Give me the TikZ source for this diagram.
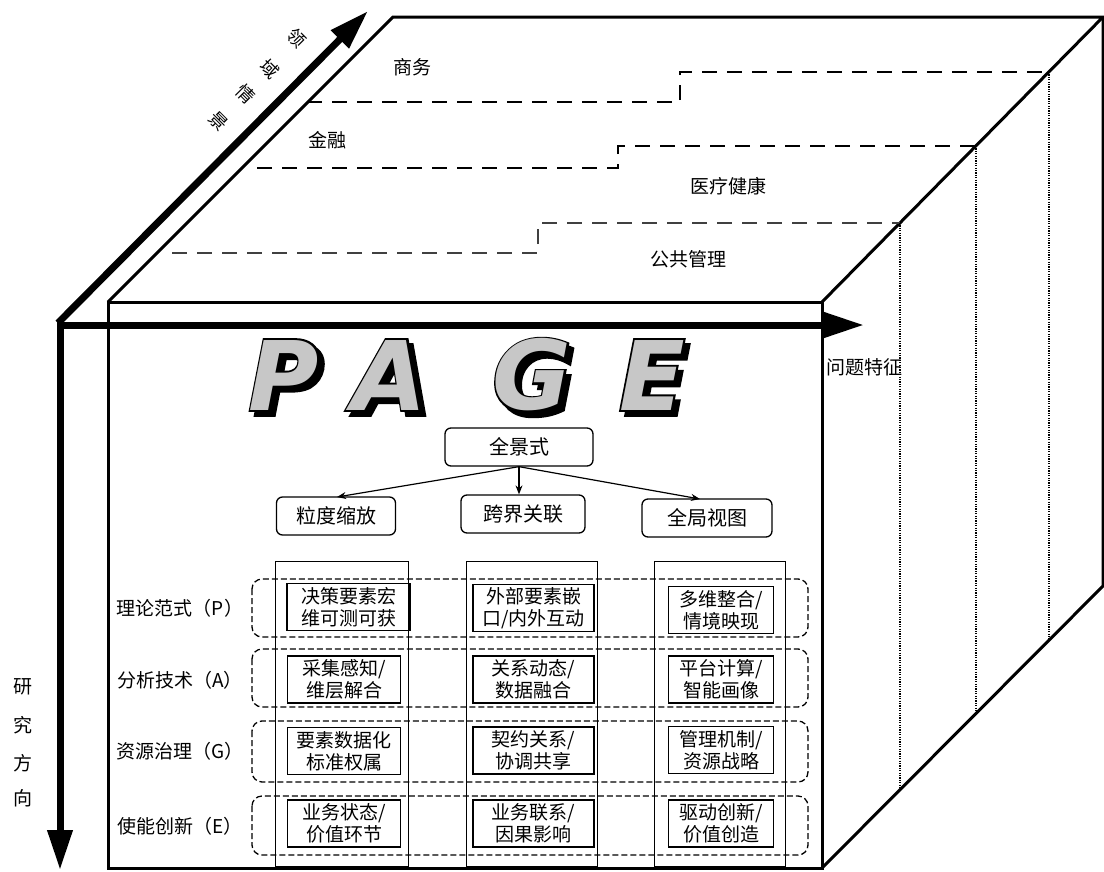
\documentclass[tikz,border=0pt]{standalone}
\usepackage{fontspec}
\newfontfamily\cjk{Noto Sans CJK SC}
\newfontfamily\pagefont{DejaVu Sans}
\newfontfamily\pageoutfont{DejaVu Sans}[BoldItalicFeatures={FakeBold=4}]
\usetikzlibrary{arrows.meta}
\newcommand\pgletter[3]{%
  \node[pageo, text=black, xshift=5pt, yshift=-5pt] (#1s) at (#2) {#3};
  \node[pageo, text=black] (#1o) at (#2) {#3};
  \node[pagel, text=black!22] (#1) at (#2) {#3};
}
\begin{document}
\begin{tikzpicture}[x=1pt,y=-1pt,
  edge/.style={line width=3pt, line join=miter},
  dashline/.style={line width=2pt, dash pattern=on 15pt off 10pt},
  dotline/.style={line width=1.8pt, dash pattern=on 1.2pt off 1.2pt},
  axis/.style={line width=7pt, -{Triangle[length=40pt,width=24pt]}},
  lbl/.style={font=\cjk\fontsize{19}{22}\selectfont, inner sep=0pt},
  rbox/.style={draw, line width=1.3pt, rounded corners=6pt, font=\cjk\fontsize{20}{24}\selectfont, inner sep=0pt, minimum height=38pt},
  cell/.style={draw, line width=1.3pt, font=\cjk\fontsize{19}{22}\selectfont, align=center, inner sep=0pt, minimum height=47pt},
  colrect/.style={draw, line width=1pt},
  rowbox/.style={draw, line width=1.3pt, dash pattern=on 6pt off 3pt, rounded corners=10pt},
  conn/.style={line width=1.2pt, -{Stealth[length=9pt,width=7pt]}},
  pagel/.style={font=\pagefont\bfseries\itshape\fontsize{96}{96}\selectfont, inner sep=0pt},
  pageo/.style={font=\pageoutfont\bfseries\itshape\fontsize{96}{96}\selectfont, inner sep=0pt}
]
\useasboundingbox (0,0) rectangle (1104,871);
\fill[white] (0,0) rectangle (1104,871);

% ---- cube ----
\draw[edge] (108,302) -- (393,17) -- (1103,17) -- (822,302);
\draw[edge] (1103,17) -- (1103,586) -- (822,868);
\draw[edge] (108,302) rectangle (822,868);

% top face dashed borders
\draw[dashline] (307,102) -- (680,102) -- (680,72) -- (1049,72);
\draw[dashline] (257,168) -- (618,168) -- (618,146) -- (976,146);
\draw[dashline, black!75] (172,253) -- (538,253) -- (538,223) -- (900,223);

% right face dotted verticals
\draw[dotline] (1049,72) -- (1049,640);
\draw[dotline] (976,146) -- (976,713);
\draw[dotline] (900,223) -- (900,789);

% top face labels
\node[lbl] (swu) at (412,67) {商务};
\node[lbl] (jr) at (327,140) {金融};
\node[lbl] (yljk) at (728,186) {医疗健康};
\node[lbl] (gggl) at (688,259) {公共管理};

% ---- axes ----
\coordinate (O) at (60,325);
\coordinate (Vtip) at (60,870);
\coordinate (Htip) at (864,325);
\coordinate (Dtip) at (368,11);
\draw[axis] (O) -- (Htip);
\draw[axis] (60,322) -- (Vtip);
\draw[axis] (58,323) -- (Dtip);

\node[lbl, font=\cjk\fontsize{18}{20}\selectfont, rotate=-45] (d1) at (297,38) {领};
\node[lbl, font=\cjk\fontsize{18}{20}\selectfont, rotate=-45] (d2) at (270,69) {域};
\node[lbl, font=\cjk\fontsize{18}{20}\selectfont, rotate=-45] (d3) at (246,94) {情};
\node[lbl, font=\cjk\fontsize{18}{20}\selectfont, rotate=-45] (d4) at (218,121) {景};

\node[lbl] (v1) at (23,687) {研};
\node[lbl] (v2) at (23,725) {究};
\node[lbl] (v3) at (23,763) {方};
\node[lbl] (v4) at (23,798) {向};

\node[lbl] (wttz) at (864,367) {问题特征};

% ---- PAGE ----
\pgletter{lp}{284,375}{P}
\pgletter{la}{390,375}{A}
\pgletter{lg}{532,375}{G}
\pgletter{le}{652,375}{E}

% ---- hierarchy ----
\node[rbox, minimum width=148pt] (qjs) at (519,447) {全景式};
\node[rbox, minimum width=119pt] (ldsf) at (336,516) {粒度缩放};
\node[rbox, minimum width=124pt] (kjgl) at (523,514) {跨界关联};
\node[rbox, minimum width=130pt] (qjst) at (707,518) {全局视图};
\draw[conn] (qjs.south) -- (337,497);
\draw[conn] (qjs.south) -- (qjs.south |- kjgl.north);
\draw[conn] (qjs.south) -- (700,499);

% ---- columns ----
\draw[colrect] (275,561) rectangle (408,866);
\draw[colrect] (466,561) rectangle (597,866);
\draw[colrect] (654,561) rectangle (785,866);

% ---- row boxes ----
\draw[rowbox] (252,579) rectangle (808,637);
\draw[rowbox] (252,649) rectangle (808,707);
\draw[rowbox] (252,721) rectangle (808,782);
\draw[rowbox] (252,796) rectangle (808,855);

\node[lbl] (rP) at (180,608) {理论范式（P）};
\node[lbl] (rA) at (180,680) {分析技术（A）};
\node[lbl] (rG) at (180,751) {资源治理（G）};
\node[lbl] (rE) at (180,826) {使能创新（E）};

% ---- cells ----
\node[cell, minimum width=123pt] (c11) at (348.5,607) {决策要素宏\\维可测可获};
\node[cell, minimum width=121pt] (c12) at (533.5,608) {外部要素嵌\\口/内外互动};
\node[cell, minimum width=105pt] (c13) at (721,610) {多维整合/\\情境映现};
\node[cell, minimum width=113pt] (c21) at (344,679.5) {采集感知/\\维层解合};
\node[cell, minimum width=121pt] (c22) at (533.5,679.5) {关系动态/\\数据融合};
\node[cell, minimum width=105pt] (c23) at (721,679.5) {平台计算/\\智能画像};
\node[cell, minimum width=113pt] (c31) at (344,751) {要素数据化\\标准权属};
\node[cell, minimum width=121pt] (c32) at (533.5,750.5) {契约关系/\\协调共享};
\node[cell, minimum width=105pt] (c33) at (721,750) {管理机制/\\资源战略};
\node[cell, minimum width=113pt] (c41) at (344,823.5) {业务状态/\\价值环节};
\node[cell, minimum width=121pt] (c42) at (533.5,823.5) {业务联系/\\因果影响};
\node[cell, minimum width=105pt] (c43) at (721,823.5) {驱动创新/\\价值创造};
\end{tikzpicture}
\end{document}
